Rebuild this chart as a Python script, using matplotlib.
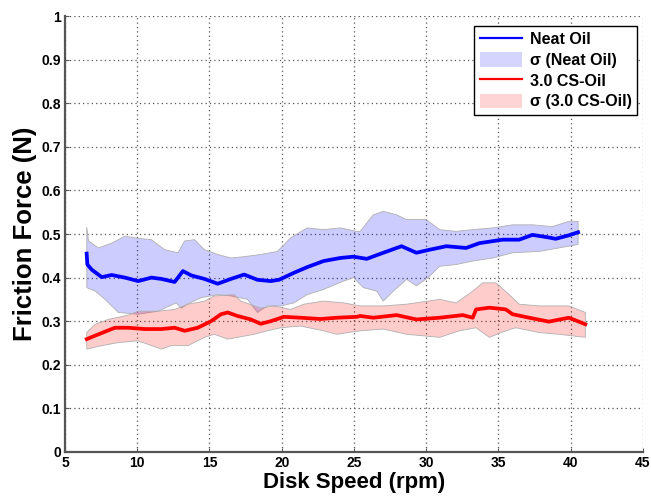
import numpy as np
import matplotlib
matplotlib.use("Agg")
import matplotlib.pyplot as plt
from matplotlib.patches import Patch
from matplotlib.lines import Line2D

# Neat oil mean friction force
neat_x = [6.5, 6.55, 6.86, 7.55, 8.23, 9.15, 10.07, 10.98, 11.67, 12.59, 13.16, 13.74,
          14.65, 15.57, 16.49, 17.4, 18.32, 19.24, 19.81, 20.84, 21.76, 22.9, 24.05,
          24.97, 25.88, 27.03, 28.29, 29.32, 30.24, 31.39, 32.76, 33.68, 35.28, 36.43,
          37.35, 38.49, 38.95, 39.87, 40.51]
neat_y = [0.455, 0.43, 0.418, 0.401, 0.406, 0.40, 0.392, 0.40, 0.397, 0.390, 0.415, 0.405,
          0.397, 0.386, 0.397, 0.407, 0.395, 0.392, 0.395, 0.411, 0.424, 0.438, 0.445,
          0.448, 0.443, 0.457, 0.472, 0.457, 0.464, 0.472, 0.468, 0.479, 0.487, 0.487,
          0.498, 0.492, 0.489, 0.497, 0.504]

# Neat oil sigma band
neat_hi_x = [6.51, 6.63, 7.32, 8.23, 9.15, 10.07, 10.98, 11.9, 12.82, 13.28, 13.96, 14.65,
             15.57, 16.49, 17.4, 18.55, 19.7, 20.61, 21.76, 22.9, 24.05, 25.2, 25.43,
             25.88, 26.34, 27.03, 27.95, 28.64, 30.01, 30.93, 32.07, 33.22, 34.6, 35.97,
             37.35, 38.72, 39.87, 40.51]
neat_hi_y = [0.516, 0.484, 0.468, 0.479, 0.495, 0.49, 0.487, 0.464, 0.457, 0.484, 0.487, 0.464,
             0.453, 0.445, 0.448, 0.453, 0.46, 0.491, 0.514, 0.51, 0.514, 0.506, 0.506,
             0.525, 0.544, 0.552, 0.544, 0.533, 0.533, 0.51, 0.506, 0.51, 0.514, 0.521,
             0.521, 0.517, 0.529, 0.529]
neat_lo_x = [6.51, 7.09, 7.78, 8.69, 10.07, 11.44, 12.7, 13.05, 13.51, 14.42, 15.57, 16.49,
             17.63, 18.32, 19.01, 19.93, 20.84, 21.76, 22.9, 24.28, 24.97, 25.65, 26.57,
             27.03, 27.72, 28.64, 29.32, 30.13, 30.93, 32.07, 33.22, 34.6, 35.97, 37.81,
             39.18, 40.51]
neat_lo_y = [0.377, 0.369, 0.35, 0.32, 0.316, 0.323, 0.342, 0.33, 0.34, 0.354, 0.361, 0.358,
             0.35, 0.32, 0.335, 0.335, 0.342, 0.361, 0.373, 0.392, 0.40, 0.377, 0.369,
             0.346, 0.369, 0.396, 0.381, 0.40, 0.426, 0.43, 0.438, 0.445, 0.457, 0.46,
             0.468, 0.476]

# 3.0 CS-oil mean friction force
cs_x = [6.51, 7.32, 8.46, 9.38, 10.53, 11.67, 12.59, 13.28, 14.19, 15.11, 15.8, 16.26,
        16.94, 17.86, 18.55, 19.24, 20.15, 21.3, 22.68, 23.82, 25.2, 25.43, 26.34, 27.95,
        29.32, 30.93, 32.53, 33.22, 33.45, 34.37, 35.51, 35.97, 37.12, 38.49, 39.87, 41.01]
cs_y = [0.259, 0.27, 0.285, 0.285, 0.282, 0.282, 0.285, 0.278, 0.285, 0.30, 0.316, 0.32,
        0.312, 0.304, 0.294, 0.30, 0.31, 0.308, 0.305, 0.308, 0.31, 0.312, 0.308, 0.314,
        0.304, 0.308, 0.314, 0.308, 0.327, 0.331, 0.327, 0.316, 0.308, 0.299, 0.308, 0.293]

# 3.0 CS-oil sigma band
cs_hi_x = [6.51, 7.09, 8.0, 9.38, 10.07, 11.44, 12.59, 13.51, 14.65, 15.34, 16.71, 17.17,
           18.55, 19.47, 20.61, 21.53, 22.9, 24.28, 25.43, 27.03, 28.64, 30.93, 32.07,
           33.22, 33.91, 34.82, 35.74, 36.43, 37.81, 39.87, 41.01]
cs_hi_y = [0.274, 0.293, 0.304, 0.314, 0.323, 0.323, 0.327, 0.339, 0.346, 0.358, 0.361, 0.346,
           0.33, 0.335, 0.327, 0.339, 0.346, 0.342, 0.335, 0.335, 0.339, 0.35, 0.342,
           0.369, 0.388, 0.388, 0.361, 0.339, 0.335, 0.335, 0.32]
cs_lo_x = [6.51, 7.55, 8.69, 10.07, 11.67, 12.36, 13.51, 14.65, 15.34, 16.26, 16.94, 18.09,
           19.01, 19.93, 21.3, 22.9, 23.82, 25.43, 27.03, 28.64, 30.93, 32.3, 33.45, 34.37,
           35.51, 36.2, 37.81, 39.18, 41.01]
cs_lo_y = [0.236, 0.244, 0.251, 0.255, 0.236, 0.244, 0.244, 0.263, 0.27, 0.259, 0.263, 0.27,
           0.278, 0.285, 0.289, 0.278, 0.27, 0.278, 0.282, 0.27, 0.263, 0.278, 0.285, 0.263,
           0.278, 0.285, 0.274, 0.27, 0.263]

x_ticks = [5, 10, 15, 20, 25, 30, 35, 40, 45]
y_ticks = [0, 0.1, 0.2, 0.3, 0.4, 0.5, 0.6, 0.7, 0.8, 0.9, 1]
y_tick_labels = ["0", "0.1", "0.2", "0.3", "0.4", "0.5", "0.6", "0.7", "0.8", "0.9", "1"]

plt.rcParams["font.family"] = ["Liberation Sans", "DejaVu Sans"]


def band(ax, hx, hy, lx, ly, color):
    px = np.concatenate([hx, lx[::-1]])
    py = np.concatenate([hy, ly[::-1]])
    ax.fill(px, py, facecolor=color, edgecolor="#b0b0b0", linewidth=0.6, zorder=2)


fig = plt.figure(figsize=(6.51, 4.99), dpi=100)
ax = fig.add_axes([0.0998, 0.0942, 0.8879, 0.8737])

band(ax, neat_hi_x, neat_hi_y, neat_lo_x, neat_lo_y, (0.0, 0.0, 1.0, 0.2))
band(ax, cs_hi_x, cs_hi_y, cs_lo_x, cs_lo_y, (1.0, 0.0, 0.0, 0.2))
ax.plot(neat_x, neat_y, color="#0000ff", linewidth=2.7, zorder=3)
ax.plot(cs_x, cs_y, color="#ff0000", linewidth=2.7, zorder=3)

ax.set_xlim(5, 45)
ax.set_ylim(0, 1)
ax.set_xticks(x_ticks)
ax.set_yticks(y_ticks)
ax.set_xticklabels([str(t) for t in x_ticks], fontweight="bold", fontsize=10)
ax.set_yticklabels(y_tick_labels, fontweight="bold", fontsize=10)
ax.tick_params(direction="in", length=3, color="#555555", pad=3)
ax.grid(True, linestyle=(0, (1, 2.5)), color="#555555", linewidth=0.9)
ax.set_axisbelow(True)
for side in ["top", "right"]:
    ax.spines[side].set_visible(False)
for side in ["left", "bottom"]:
    ax.spines[side].set_color("#555555")
    ax.spines[side].set_linewidth(1.6)

ax.set_xlabel("Disk Speed (rpm)", fontsize=16, fontweight="bold", labelpad=1)
ax.set_ylabel("Friction Force (N)", fontsize=18.5, fontweight="bold", labelpad=3)

handles = [
    Line2D([], [], color="#0000ff", linewidth=1.6),
    Patch(facecolor=(0.0, 0.0, 1.0, 0.17), edgecolor="none"),
    Line2D([], [], color="#ff0000", linewidth=1.6),
    Patch(facecolor=(1.0, 0.0, 0.0, 0.17), edgecolor="none"),
]
labels = ["Neat Oil", "\u03c3 (Neat Oil)", "3.0 CS-Oil", "\u03c3 (3.0 CS-Oil)"]
leg = ax.legend(handles, labels, loc="upper right", bbox_to_anchor=(0.9896, 0.977),
                borderaxespad=0, prop={"weight": "bold", "size": 11.5}, fancybox=False,
                framealpha=1, edgecolor="black", handlelength=2.6, handleheight=1.05,
                labelspacing=0.3, borderpad=0.35, handletextpad=0.5)
leg.get_frame().set_linewidth(1.0)

fig.savefig("out.png", dpi=100)
